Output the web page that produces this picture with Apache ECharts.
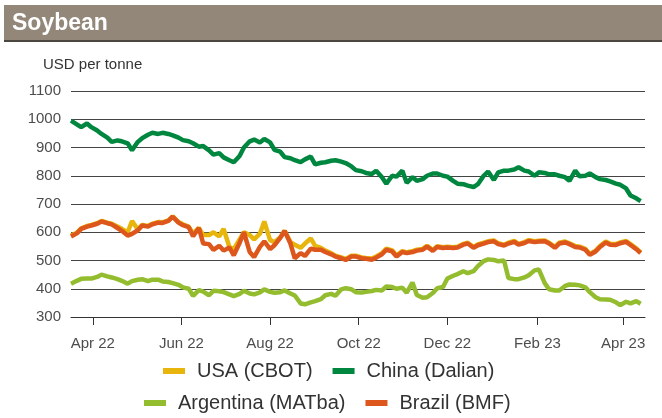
<!DOCTYPE html>
<html>
<head>
<meta charset="utf-8">
<script src="https://cdn.jsdelivr.net/npm/echarts@6/dist/echarts.min.js"></script>
<style>
  html, body { margin: 0; padding: 0; background: #fff; }
  #main { width: 662px; height: 418px; }
</style>
</head>
<body>
<div id="main"></div>
<script>
// twice-weekly readings, Mar 2022 - Apr 2023
var dates = [
  '2022-03-17','2022-03-21','2022-03-24','2022-03-28','2022-03-31',
  '2022-04-04','2022-04-07','2022-04-11','2022-04-14','2022-04-18','2022-04-21','2022-04-25','2022-04-28',
  '2022-05-02','2022-05-05','2022-05-09','2022-05-12','2022-05-16','2022-05-19','2022-05-23','2022-05-26','2022-05-30',
  '2022-06-02','2022-06-06','2022-06-09','2022-06-13','2022-06-16','2022-06-20','2022-06-23','2022-06-27','2022-06-30',
  '2022-07-04','2022-07-07','2022-07-11','2022-07-14','2022-07-18','2022-07-21','2022-07-25','2022-07-28',
  '2022-08-01','2022-08-04','2022-08-08','2022-08-11','2022-08-15','2022-08-18','2022-08-22','2022-08-25','2022-08-29',
  '2022-09-01','2022-09-05','2022-09-08','2022-09-12','2022-09-15','2022-09-19','2022-09-22','2022-09-26','2022-09-29',
  '2022-10-03','2022-10-06','2022-10-10','2022-10-13','2022-10-17','2022-10-20','2022-10-24','2022-10-27','2022-10-31',
  '2022-11-03','2022-11-07','2022-11-10','2022-11-14','2022-11-17','2022-11-21','2022-11-24','2022-11-28',
  '2022-12-01','2022-12-05','2022-12-08','2022-12-12','2022-12-15','2022-12-19','2022-12-22','2022-12-26','2022-12-29',
  '2023-01-02','2023-01-05','2023-01-09','2023-01-12','2023-01-16','2023-01-19','2023-01-23','2023-01-26','2023-01-30',
  '2023-02-02','2023-02-06','2023-02-09','2023-02-13','2023-02-16','2023-02-20','2023-02-23','2023-02-27',
  '2023-03-02','2023-03-06','2023-03-09','2023-03-13','2023-03-16','2023-03-20','2023-03-23','2023-03-27','2023-03-30',
  '2023-04-03','2023-04-06','2023-04-10','2023-04-13'
];

var usa = [
  588, 598, 614, 622, 626,
  632, 640, 634, 630, 620, 612, 600, 640,
  610, 626, 622, 630, 636, 635, 642, 656, 636,
  628, 620, 596, 615, 590, 590, 600, 585, 612,
  548, 540, 575, 600, 590, 575, 595, 638,
  572, 565, 582, 605, 565, 556, 545, 560, 578,
  552, 545, 535, 526, 517, 511, 505, 517, 517,
  511, 509, 507, 514, 526, 542, 536, 518, 533,
  529, 533, 538, 541, 552, 537, 551, 547,
  549, 547, 549, 559, 563, 548, 557, 563, 568,
  571, 561, 556, 563, 569, 559, 565, 572, 568,
  570, 571, 563, 548, 563, 567, 561, 551,
  549, 541, 523, 535, 551, 567, 559, 558, 564,
  569, 558, 543, 529
];

var china = [
  995, 982, 972, 985, 972,
  960, 948, 935, 920, 925, 922, 915, 890,
  920, 933, 945, 952, 948, 952, 948, 943, 935,
  926, 922, 915, 903, 905, 890, 875, 880, 865,
  855, 848, 870, 900, 922, 928, 918, 930,
  918, 892, 885, 866, 862, 855, 848, 858, 868,
  840, 846, 848, 853, 855, 850, 845, 833, 820,
  816, 810, 806, 818, 795, 772, 800, 797, 818,
  775, 795, 782, 788, 800, 808, 808, 800,
  797, 782, 772, 770, 765, 760, 770, 800, 815,
  785, 812, 818, 818, 822, 830, 818, 815, 800,
  812, 810, 805, 805, 800, 795, 782, 818,
  798, 800, 808, 795, 788, 785, 780, 772, 768,
  755, 730, 720, 710
];

var argentina = [
  418, 428, 435, 436, 436,
  442, 450, 444, 440, 434, 428, 418, 427,
  432, 434, 427, 432, 432, 426, 424, 420, 414,
  405, 400, 375, 395, 390, 377, 393, 391, 388,
  380, 374, 382, 393, 383, 380, 387, 398,
  389, 386, 388, 394, 383, 376, 348, 345, 352,
  356, 363, 377, 382, 375, 398, 402, 398, 388,
  387, 389, 392, 396, 394, 408, 406, 400, 404,
  386, 422, 378, 368, 370, 385, 402, 406,
  436, 446, 452, 462, 455, 462, 480, 498, 504,
  502, 497, 500, 438, 434, 434, 440, 448, 465,
  468, 420, 398, 394, 394, 410, 415, 414,
  412, 405, 388, 370, 363, 362, 361, 352, 342,
  354, 348, 356, 347
];

var brazil = [
  585, 596, 612, 620, 624,
  630, 638, 632, 628, 615, 605, 588, 594,
  607, 624, 620, 628, 634, 633, 640, 655, 634,
  625, 618, 586, 615, 560, 558, 538, 552, 535,
  546, 518, 562, 600, 530, 512, 548, 568,
  540, 554, 580, 605, 560, 508, 526, 516, 542,
  538, 538, 530, 522, 514, 508, 502, 514, 514,
  508, 506, 503, 510, 522, 538, 532, 514, 530,
  526, 530, 535, 538, 549, 534, 548, 544,
  546, 544, 546, 556, 560, 545, 554, 560, 565,
  568, 558, 553, 560, 566, 556, 562, 569, 565,
  567, 568, 560, 545, 560, 564, 558, 548,
  546, 538, 520, 532, 548, 564, 556, 555, 561,
  566, 555, 540, 526
];

var tickDates = ['2022-04-01','2022-06-01','2022-08-01','2022-10-01','2022-12-01','2023-02-01','2023-04-01'];
var tickLabels = ['Apr 22','Jun 22','Aug 22','Oct 22','Dec 22','Feb 23','Apr 23'];

var FONT = '"Liberation Sans", Arial, sans-serif';

function ts(s) { return +new Date(s + 'T00:00:00'); }
var tickTs = tickDates.map(ts);

function pairs(vals) {
  return dates.map(function (d, i) { return [ts(d), vals[i]]; });
}

var chart = echarts.init(document.getElementById('main'));

chart.setOption({
  animation: false,
  textStyle: { fontFamily: FONT },
  graphic: [
    { type: 'rect', shape: { x: 4, y: 5, width: 658, height: 35 }, style: { fill: '#928778' } },
    { type: 'rect', shape: { x: 4, y: 40, width: 658, height: 2 }, style: { fill: '#4b4640' } },
    { type: 'text', x: 12, y: 24, style: { text: 'Soybean', fill: '#fff', font: 'bold 23px ' + FONT, verticalAlign: 'middle' } },
    { type: 'text', x: 43, y: 65, style: { text: 'USD per tonne', fill: '#333', font: '15px ' + FONT, verticalAlign: 'middle' } }
  ],
  legend: [
    {
      data: ['USA (CBOT)', 'China (Dalian)'],
      left: 158, top: 356,
      icon: 'rect', itemWidth: 22, itemHeight: 6, itemGap: 20,
      textStyle: { fontSize: 20, color: '#333', padding: [0, 0, 0, 7] }
    },
    {
      data: ['Argentina (MATba)', 'Brazil (BMF)'],
      left: 139, top: 388,
      icon: 'rect', itemWidth: 22, itemHeight: 6, itemGap: 20,
      textStyle: { fontSize: 20, color: '#333', padding: [0, 0, 0, 7] }
    }
  ],
  grid: { left: 71, right: 17, top: 91, bottom: 101, containLabel: false },
  xAxis: {
    type: 'value',
    min: ts('2022-03-17'),
    max: ts('2023-04-16'),
    axisLine: { show: true, lineStyle: { color: '#333', width: 1 } },
    axisTick: { show: true, customValues: tickTs, length: 8, lineStyle: { color: '#333' } },
    axisLabel: {
      customValues: tickTs,
      fontSize: 15, color: '#4d4d4d', margin: 19,
      formatter: function (v) {
        var i = tickTs.indexOf(v);
        return i >= 0 ? tickLabels[i] : '';
      }
    },
    splitLine: { show: false }
  },
  yAxis: {
    type: 'value',
    min: 300, max: 1100, interval: 100,
    axisLine: { show: false },
    axisTick: { show: false },
    axisLabel: { fontSize: 15, color: '#4d4d4d', margin: 10, formatter: function (v) { return String(v); } },
    splitLine: { lineStyle: { color: '#444', width: 1 } }
  },
  series: [
    { name: 'USA (CBOT)', type: 'line', data: pairs(usa), symbol: 'none', color: '#e8b50c', lineStyle: { width: 4.5 } },
    { name: 'China (Dalian)', type: 'line', data: pairs(china), symbol: 'none', color: '#00873f', lineStyle: { width: 4.5 } },
    { name: 'Argentina (MATba)', type: 'line', data: pairs(argentina), symbol: 'none', color: '#93bd2f', lineStyle: { width: 4.5 } },
    { name: 'Brazil (BMF)', type: 'line', data: pairs(brazil), symbol: 'none', color: '#dd561b', lineStyle: { width: 4.5 } }
  ]
});
</script>
</body>
</html>
